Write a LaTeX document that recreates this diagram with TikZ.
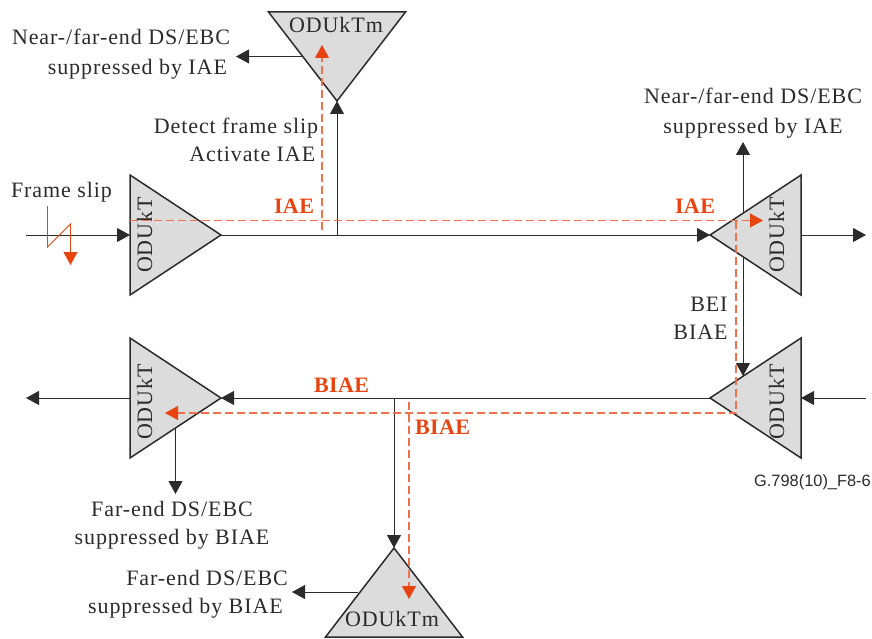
\documentclass[tikz,border=0pt]{standalone}
\usepackage{fontspec}
\setmainfont[LetterSpace=4.2]{Liberation Serif}
\newfontfamily\itutag{Liberation Sans}
\newfontfamily\iaebold[LetterSpace=2]{Liberation Serif Bold}
\usetikzlibrary{positioning, calc, arrows.meta, shapes.geometric}
\definecolor{alarm}{HTML}{E8440F}
\definecolor{alarmdash}{HTML}{F0704A}
\definecolor{ink}{HTML}{2B2B2B}
\definecolor{tribox}{HTML}{DCDCDC}
\tikzset{
  tri/.style={draw=ink,fill=tribox,line width=1.5pt,shape=isosceles triangle,isosceles triangle stretches,inner sep=0pt,outer sep=0pt},
  oduk/.style={tri,minimum width=120pt,minimum height=91pt},
  odum/.style={tri,minimum width=137pt,minimum height=89pt},
  txt/.style={text=ink,font=\fontsize{22}{30}\selectfont,inner sep=0pt,outer sep=0pt},
  tag/.style={text=alarm,font=\fontsize{22}{29}\iaebold\selectfont,inner sep=0pt,outer sep=0pt},
  sig/.style={draw=ink,line width=0.9pt,-{Triangle[length=13pt,width=14pt]}},
  alm/.style={draw=alarmdash,line width=1.1pt,dash pattern=on 8pt off 4pt,-{Triangle[length=13pt,width=14pt,fill=alarm,color=alarm,sep=0pt]}},
}
\begin{document}
\begin{tikzpicture}[x=1pt,y=-1pt]
  \useasboundingbox (0,0) rectangle (872,639);
  \node[oduk,anchor=apex,shape border rotate=0] (txA) at (221,235) {};
  \node[oduk,anchor=apex,shape border rotate=180] (rxA) at (710,235) {};
  \node[oduk,anchor=apex,shape border rotate=180] (txB) at (710,398) {};
  \node[oduk,anchor=apex,shape border rotate=0] (rxB) at (221,398) {};
  \node[odum,anchor=apex,shape border rotate=270] (tmA) at (337,101) {};
  \node[odum,anchor=apex,shape border rotate=90] (tmB) at (394,548) {};
  \node[txt,rotate=90,anchor=base] (txAname) at (152,235) {ODUkT};
  \node[txt,rotate=90,anchor=base] (rxAname) at (784,235) {ODUkT};
  \node[txt,rotate=90,anchor=base] (txBname) at (784,402) {ODUkT};
  \node[txt,rotate=90,anchor=base] (rxBname) at (152,402) {ODUkT};
  \node[txt,anchor=base] (tmAname) at (336,33) {ODUkTm};
  \node[txt,anchor=base] (tmBname) at (392,626) {ODUkTm};

  \coordinate (inA) at (26,235);
  \coordinate (outA) at (866,235);
  \coordinate (inB) at (866,398);
  \coordinate (outB) at (26,398);
  \coordinate (tapA) at (337,235);
  \coordinate (tapB) at (394,398);
  \coordinate (tmAside) at (303,56.5);
  \coordinate (tmAend) at (236,56.5);
  \coordinate (tmBside) at (358,592);
  \coordinate (tmBend) at (292,592);
  \coordinate (rxAtop) at (743,213);
  \coordinate (rxAend) at (743,142);
  \coordinate (rxAlow) at (743,257);
  \coordinate (txBtop) at (743,376);
  \coordinate (rxBside) at (175.5,428);
  \coordinate (rxBend) at (175.5,494);

  \draw[sig] (inA) -- (txA.lower side);
  \draw[sig] (txA.apex) -- (rxA.apex);
  \draw[sig] (rxA.lower side) -- (outA);
  \draw[sig] (inB) -- (txB.lower side);
  \draw[sig] (txB.apex) -- (rxB.apex);
  \draw[sig] (rxB.lower side) -- (outB);
  \draw[sig] (tapA) -- (tmA.apex);
  \draw[sig] (tapB) -- (tmB.apex);
  \draw[sig] (tmAside) -- (tmAend);
  \draw[sig] (tmBside) -- (tmBend);
  \draw[sig] (rxAtop) -- (rxAend);
  \draw[sig] (rxAlow) -- (txBtop);
  \draw[sig] (rxBside) -- (rxBend);

  \coordinate (iaeStart) at (130,220.5);
  \coordinate (iaeEnd) at (763,220.5);
  \coordinate (iaeUpLow) at (322,230);
  \coordinate (iaeUpEnd) at (322,45);
  \coordinate (biaeTop) at (736,220.5);
  \coordinate (biaeCorner) at (736,413);
  \coordinate (biaeEnd) at (165,413);
  \coordinate (biaeDnTop) at (409,402);
  \coordinate (biaeDnEnd) at (409,599);
  \coordinate (slipA) at (47.5,206);
  \coordinate (slipB) at (47.5,247);
  \coordinate (slipC) at (70.5,224);
  \coordinate (slipEnd) at (70.5,265);

  \draw[alm] (iaeStart) -- (iaeEnd);
  \draw[alm] (iaeUpLow) -- (iaeUpEnd);
  \draw[alm] (biaeTop) -- (biaeCorner) -- (biaeEnd);
  \draw[alm] (biaeDnTop) -- (biaeDnEnd);
  \draw[draw=alarm,line width=0.9pt,-{Triangle[length=13pt,width=14pt]}] (slipA) -- (slipB) -- (slipC) -- (slipEnd);

  \node[txt,anchor=center,align=right] (nearA) at (121,54) {Near-/far-end DS/EBC\\suppressed by IAE\kern3pt};
  \node[txt,anchor=center,align=center] (nearB) at (753,113) {Near-/far-end DS/EBC\\suppressed by IAE};
  \node[txt,anchor=center,align=right] (detect) at (236,140) {Detect frame slip\\[-2pt]Activate IAE\kern3pt};
  \node[txt,anchor=base west] (slip) at (11,197) {Frame slip};
  \node[txt,anchor=center,align=right] (bei) at (700.5,318) {BEI\\[-2pt]BIAE};
  \node[txt,anchor=center,align=center] (farA) at (172,525) {Far-end DS/EBC\\[-2pt]suppressed by BIAE};
  \node[txt,anchor=center,align=right] (farB) at (188,594) {Far-end DS/EBC\\[-2pt]suppressed by BIAE\kern5pt};
  \node[tag,anchor=base west] (iaeA) at (274,213) {IAE};
  \node[tag,anchor=base west] (iaeB) at (675,213) {IAE};
  \node[tag,anchor=base west] (biaeA) at (314,392) {BIAE};
  \node[tag,anchor=base west] (biaeB) at (415,434) {BIAE};
  \node[text=ink,font=\fontsize{16.4}{20}\itutag\selectfont,anchor=base east,inner sep=0pt] (itu) at (871,486) {G.798(10)\_F8-6};
\end{tikzpicture}
\end{document}
